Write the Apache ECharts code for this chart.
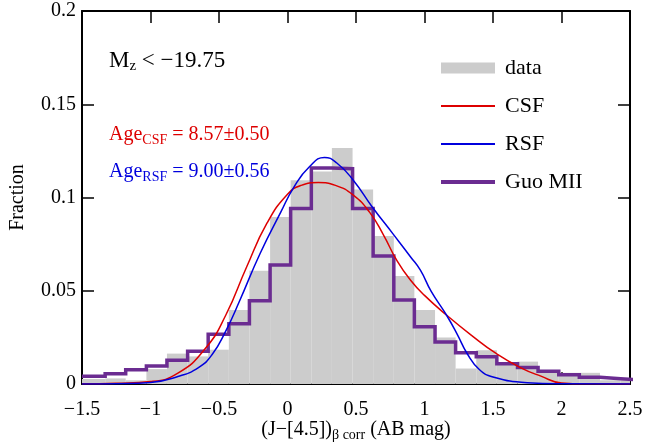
<!DOCTYPE html>
<html><head><meta charset="utf-8">
<script src="https://cdn.jsdelivr.net/npm/echarts@6/dist/echarts.min.js"></script>
<style>html,body{margin:0;padding:0;background:#fff}#c{width:647px;height:445px}</style>
</head><body><div id="c"></div>
<script>
// Histogram bin edges (27 bins)
const binEdges = [-1.5, -1.331, -1.181, -1.030, -0.880, -0.729, -0.579, -0.428, -0.278, -0.127, 0.023, 0.174, 0.324, 0.475, 0.625, 0.776, 0.926, 1.077, 1.227, 1.378, 1.528, 1.679, 1.829, 1.980, 2.130, 2.281, 2.431, 2.582];
// Observed data fraction per bin (grey bars)
const dataFrac = [0.0027, 0.003, 0.002, 0.008, 0.0163, 0.0148, 0.0184, 0.0397, 0.0607, 0.0895, 0.1093, 0.114, 0.1265, 0.1043, 0.0793, 0.0579, 0.0397, 0.025, 0.0083, 0.0181, 0.0115, 0.012, 0.0072, 0.006, 0.006, 0.002, 0.002];
// Guo MII model per bin (purple steps)
const guoMII = [0.0042, 0.0055, 0.0076, 0.0097, 0.0127, 0.0175, 0.0267, 0.0323, 0.0446, 0.0638, 0.0941, 0.1158, 0.1154, 0.0941, 0.0686, 0.0450, 0.0307, 0.0225, 0.0167, 0.0146, 0.0108, 0.0089, 0.0069, 0.0049, 0.0036, 0.0028, 0.0022];
// CSF model curve
const csfCurve = [[-1.5, 0.0001], [-1.25, 0.0004], [-1.0, 0.0013], [-0.8, 0.0058], [-0.6, 0.019], [-0.45, 0.037], [-0.3, 0.0625], [-0.15, 0.0862], [0.0, 0.1018], [0.1, 0.1065], [0.225, 0.108], [0.35, 0.1065], [0.48, 0.1013], [0.6, 0.092], [0.7, 0.08], [0.8, 0.066], [0.9, 0.0555], [1.0, 0.0475], [1.16, 0.037], [1.35, 0.0257], [1.52, 0.0165], [1.7, 0.0088], [1.85, 0.0042], [2.0, 0.0006], [2.2, 0.0001], [2.5, 0.0]];
// RSF model curve
const rsfCurve = [[-1.5, 0.0], [-1.25, 0.0002], [-1.0, 0.0008], [-0.8, 0.004], [-0.65, 0.0088], [-0.55, 0.0158], [-0.45, 0.0285], [-0.35, 0.0445], [-0.2, 0.07], [-0.05, 0.092], [0.05, 0.106], [0.16, 0.1165], [0.27, 0.1215], [0.36, 0.1185], [0.48, 0.1093], [0.62, 0.0948], [0.77, 0.0805], [0.9, 0.068], [0.97, 0.061], [1.05, 0.0495], [1.16, 0.037], [1.24, 0.0265], [1.31, 0.0165], [1.4, 0.0078], [1.5, 0.0038], [1.75, 0.0007], [2.0, 0.0001], [2.5, 0.0]];

const FONT = "'Liberation Serif','DejaVu Serif',serif";
const histData = dataFrac.map((v, i) => [binEdges[i], binEdges[i + 1], v]);
const stepData = [];
guoMII.forEach((v, i) => { stepData.push([binEdges[i], v]); stepData.push([binEdges[i + 1], v]); });

const fmtX = v => (v < 0 ? '\u2212' + Math.abs(v) : String(v));
const fmtY = v => String(+(+v).toFixed(3));

const axisCommon = {
  type: 'value',
  axisLine: { show: true, onZero: false, lineStyle: { color: '#000', width: 2 } },
  axisTick: { show: true, inside: true, length: 12, lineStyle: { color: '#000', width: 1.5 } },
  splitLine: { show: false },
  minorTick: { show: false }
};

const chart = echarts.init(document.getElementById('c'), null, { renderer: 'canvas' });
chart.setOption({
  animation: false,
  backgroundColor: '#fff',
  grid: { left: 82, right: 17, top: 11, bottom: 61, containLabel: false, outerBoundsMode: 'none' },
  xAxis: [
    Object.assign({}, axisCommon, {
      min: -1.5, max: 2.5, interval: 0.5, position: 'bottom',
      axisLabel: { show: true, margin: 16, fontFamily: FONT, fontSize: 20, color: '#000', formatter: fmtX },
      name: '{m|(J\u2212[4.5])}{s|\u03b2 corr}{m| (AB mag)}',
      nameLocation: 'middle', nameGap: 36, nameMoveOverlap: false,
      nameTextStyle: {
        fontFamily: FONT, fontSize: 20, color: '#000',
        rich: {
          m: { fontFamily: FONT, fontSize: 20, color: '#000', lineHeight: 22, verticalAlign: 'top' },
          s: { fontFamily: FONT, fontSize: 14, color: '#000', lineHeight: 14, padding: [14, 0, 0, 0], verticalAlign: 'bottom' }
        }
      }
    }),
    Object.assign({}, axisCommon, {
      min: -1.5, max: 2.5, interval: 0.5, position: 'top',
      axisLabel: { show: false }
    })
  ],
  yAxis: [
    Object.assign({}, axisCommon, {
      min: 0, max: 0.2, interval: 0.05, position: 'left',
      axisLabel: { show: true, margin: 6, padding: [7, 0, 0, 0], fontFamily: FONT, fontSize: 20, color: '#000', formatter: fmtY },
      name: 'Fraction', nameLocation: 'middle', nameGap: 54, nameRotate: 90, nameMoveOverlap: false,
      nameTextStyle: { fontFamily: FONT, fontSize: 20, color: '#000' }
    }),
    Object.assign({}, axisCommon, {
      min: 0, max: 0.2, interval: 0.05, position: 'right',
      axisLabel: { show: false }
    })
  ],
  legend: {
    orient: 'vertical', left: 439, top: 57, padding: 0,
    itemWidth: 54, itemHeight: 11, itemGap: 16,
    textStyle: { fontFamily: FONT, fontSize: 22, color: '#000', padding: [0, 0, 0, 5] },
    data: [
      { name: 'data', icon: 'rect' },
      { name: 'CSF', itemStyle: { opacity: 0 } },
      { name: 'RSF', itemStyle: { opacity: 0 } },
      { name: 'Guo MII', itemStyle: { opacity: 0 }, lineStyle: { width: 4 } }
    ]
  },
  graphic: [
    {
      type: 'text', left: 109, top: 41, z: 100,
      style: {
        text: '{m|M}{s|z}{m| < \u221219.75}',
        rich: {
          m: { fontFamily: FONT, fontSize: 23, fill: '#000', lineHeight: 25, verticalAlign: 'top' },
          s: { fontFamily: FONT, fontSize: 15, fill: '#000', lineHeight: 15, padding: [18, 0, 0, 0], verticalAlign: 'bottom' }
        }
      }
    },
    {
      type: 'text', left: 109, top: 119, z: 100,
      style: {
        text: '{m|Age}{s|CSF}{m| = 8.57\u00b10.50}',
        rich: {
          m: { fontFamily: FONT, fontSize: 20, fill: '#dd0000', lineHeight: 22, verticalAlign: 'top' },
          s: { fontFamily: FONT, fontSize: 14, fill: '#dd0000', lineHeight: 14, padding: [14, 0, 0, 0], verticalAlign: 'bottom' }
        }
      }
    },
    {
      type: 'text', left: 109, top: 156, z: 100,
      style: {
        text: '{m|Age}{s|RSF}{m| = 9.00\u00b10.56}',
        rich: {
          m: { fontFamily: FONT, fontSize: 20, fill: '#0000dd', lineHeight: 22, verticalAlign: 'top' },
          s: { fontFamily: FONT, fontSize: 14, fill: '#0000dd', lineHeight: 14, padding: [14, 0, 0, 0], verticalAlign: 'bottom' }
        }
      }
    }
  ],
  series: [
    {
      name: 'data', type: 'custom', z: 1, clip: true,
      itemStyle: { color: '#cccccc' },
      data: histData,
      encode: { x: [0, 1], y: 2 },
      renderItem: function (params, api) {
        const p0 = api.coord([api.value(0), api.value(2)]);
        const p1 = api.coord([api.value(1), 0]);
        return {
          type: 'rect',
          shape: { x: p0[0], y: p0[1], width: p1[0] - p0[0], height: p1[1] - p0[1] },
          style: { fill: '#cccccc' }
        };
      }
    },
    {
      name: 'Guo MII', type: 'line', z: 2, data: stepData, symbol: 'none', clip: true,
      itemStyle: { color: '#6b2c91' },
      lineStyle: { color: '#6b2c91', width: 3.5, join: 'miter' }
    },
    {
      name: 'CSF', type: 'line', z: 3, data: csfCurve, symbol: 'none', smooth: 0.5, clip: true,
      itemStyle: { color: '#dd0000' },
      lineStyle: { color: '#dd0000', width: 1.5 }
    },
    {
      name: 'RSF', type: 'line', z: 3, data: rsfCurve, symbol: 'none', smooth: 0.5, clip: true,
      itemStyle: { color: '#0000dd' },
      lineStyle: { color: '#0000dd', width: 1.5 }
    }
  ]
});
</script>
</body></html>
